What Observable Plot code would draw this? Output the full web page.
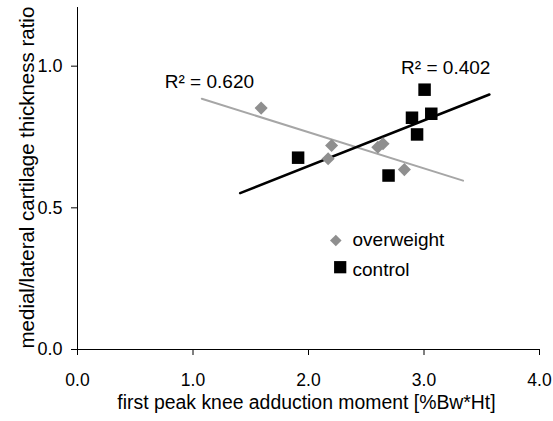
<!DOCTYPE html>
<html><head><meta charset="utf-8">
<script src="https://cdn.jsdelivr.net/npm/d3@7"></script>
<script src="https://cdn.jsdelivr.net/npm/@observablehq/plot@0.6"></script>
<style>body{margin:0;background:#fff;} #chart svg{overflow:visible;}</style>
</head><body><div id="chart"></div>
<script>
const overweightX = [1.59, 2.20, 2.17, 2.60, 2.645, 2.83];
const overweightY = [0.852, 0.720, 0.673, 0.714, 0.726, 0.635];
const controlX = [1.91, 3.005, 2.896, 3.063, 2.94, 2.693];
const controlY = [0.677, 0.917, 0.818, 0.832, 0.759, 0.614];
const trendOverweightX = [1.076, 3.338];
const trendOverweightY = [0.885, 0.596];
const trendControlX = [1.408, 3.566];
const trendControlY = [0.552, 0.900];
const r2Labels = ["R\u00b2 = 0.620", "R\u00b2 = 0.402"];
const legendLabels = ["overweight", "control"];
const xTicks = [0, 1, 2, 3, 4];
const yTicks = [0, 0.5, 1.0];
const xTitle = "first peak knee adduction moment [%Bw*Ht]";
const yTitle = "medial/lateral cartilage thickness ratio";

const ow = overweightX.map((x, i) => ({x, y: overweightY[i]}));
const ctrl = controlX.map((x, i) => ({x, y: controlY[i]}));
const trendOw = trendOverweightX.map((x, i) => ({x, y: trendOverweightY[i]}));
const trendCtrl = trendControlX.map((x, i) => ({x, y: trendControlY[i]}));

const GRAY_DOT = "#8f8f8f";
const GRAY_LINE = "#a6a6a6";
const fmt = d3.format(".1f");

const chart = Plot.plot({
  width: 553,
  height: 421,
  marginLeft: 77,
  marginRight: 14,
  marginTop: 9,
  marginBottom: 72,
  style: {fontFamily: "'Liberation Sans', Arial, sans-serif", background: "#fff"},
  x: {domain: [0, 4]},
  y: {domain: [0, 1.2]},
  marks: [
    Plot.ruleY([0], {stroke: "#000", strokeWidth: 1}),
    Plot.ruleX([0], {y1: 0, y2: 1.207, stroke: "#000", strokeWidth: 1}),
    Plot.axisX({ticks: xTicks, tickFormat: fmt, tickSize: 6, tickPadding: 18, fontSize: 17.5, label: null}),
    Plot.axisY({ticks: yTicks, tickFormat: fmt, tickSize: 6, tickPadding: 9, fontSize: 18, label: null}),
    Plot.line(trendOw, {x: "x", y: "y", stroke: GRAY_LINE, strokeWidth: 2}),
    Plot.line(trendCtrl, {x: "x", y: "y", stroke: "#000", strokeWidth: 2.5}),
    Plot.dot(ow, {x: "x", y: "y", symbol: d3.symbolDiamond2, r: 5.9, fill: GRAY_DOT, stroke: "none"}),
    Plot.dot(ctrl, {x: "x", y: "y", symbol: d3.symbolSquare, r: 7.05, fill: "#000", stroke: "none"}),
    Plot.text([trendOw[0]], {x: "x", y: "y", text: () => r2Labels[0], textAnchor: "start", lineAnchor: "bottom", dx: -37, dy: -11, fontSize: 19}),
    Plot.text([trendCtrl[1]], {x: "x", y: "y", text: () => r2Labels[1], textAnchor: "end", lineAnchor: "bottom", dx: 1, dy: -21, fontSize: 19}),
    Plot.dot([legendLabels[0]], {frameAnchor: "top-left", dx: 258.3, dy: 231, symbol: d3.symbolDiamond2, r: 5.2, fill: GRAY_DOT, stroke: "none"}),
    Plot.dot([legendLabels[1]], {frameAnchor: "top-left", dx: 262.7, dy: 257.7, symbol: d3.symbolSquare, r: 6.9, fill: "#000", stroke: "none"}),
    Plot.text([legendLabels[0]], {frameAnchor: "top-left", text: d => d, dx: 275, dy: 230, textAnchor: "start", lineAnchor: "middle", fontSize: 19}),
    Plot.text([legendLabels[1]], {frameAnchor: "top-left", text: d => d, dx: 275, dy: 260, textAnchor: "start", lineAnchor: "middle", fontSize: 19}),
    Plot.text([xTitle], {frameAnchor: "bottom", text: d => d, lineAnchor: "bottom", dx: -2, dy: 59, fontSize: 19.4}),
    Plot.text([yTitle], {frameAnchor: "bottom-left", text: d => d, rotate: -90, textAnchor: "start", lineAnchor: "bottom", dx: -44, dy: -1, fontSize: 20.5})
  ]
});
document.getElementById("chart").appendChild(chart);
</script>
</body></html>
